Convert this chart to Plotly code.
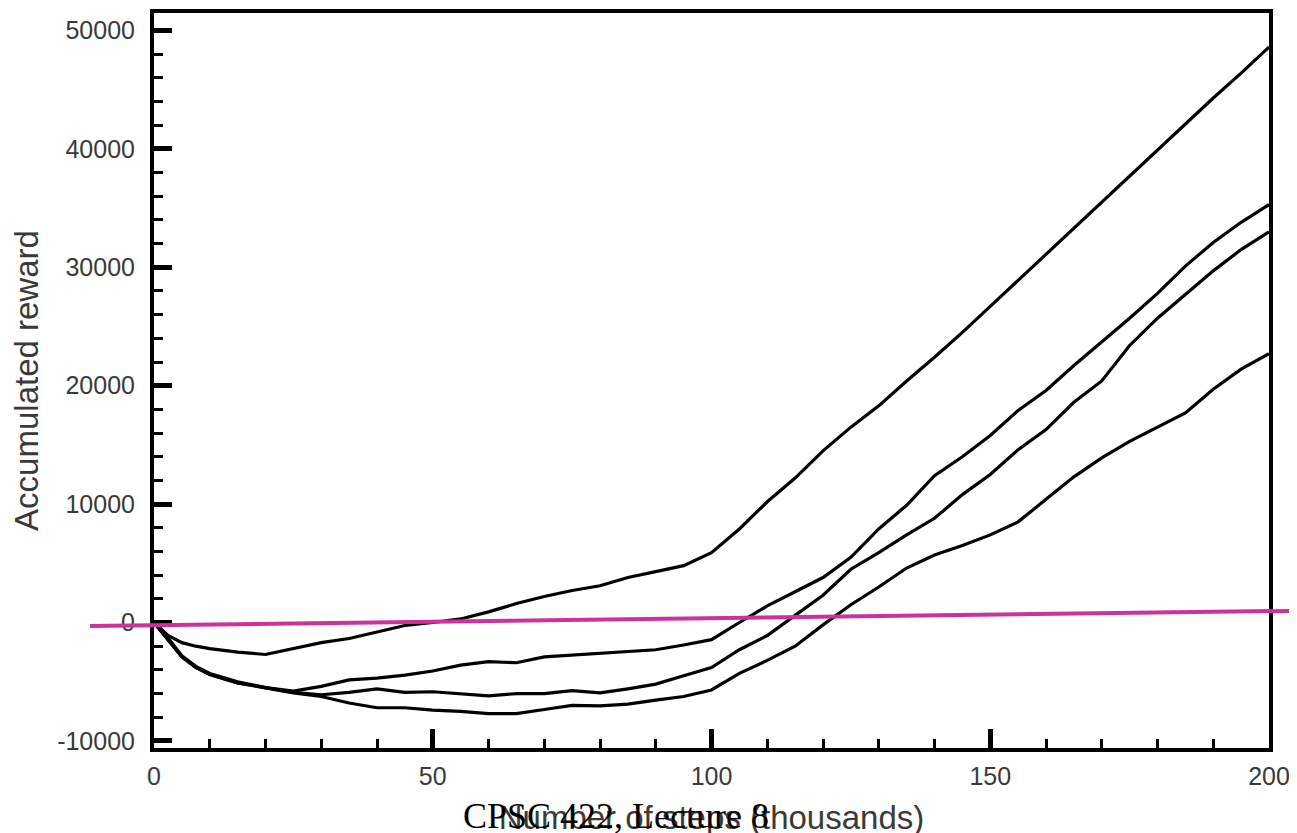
import plotly.graph_objects as go

# x positions (thousands of steps)
steps_k = [0, 2.5, 5, 7.5, 10, 15, 20, 25, 30, 35, 40, 45, 50, 55, 60, 65, 70, 75, 80, 85, 90, 95,
           100, 105, 110, 115, 120, 125, 130, 135, 140, 145, 150, 155, 160, 165, 170, 175, 180,
           185, 190, 195, 200]

run_a = [0, -1100, -1700, -2000, -2200, -2500, -2700, -2200, -1700, -1350, -800, -250, 0, 300, 900,
         1600, 2200, 2700, 3100, 3800, 4300, 4800,
         5900, 7900, 10200, 12200, 14500, 16500, 18300, 20400, 22400, 24500, 26700, 28900, 31100,
         33300, 35500, 37700, 39900, 42100, 44300, 46400, 48600]

run_b = [0, -1300, -2800, -3700, -4300, -5000, -5500, -5800, -5400, -4850, -4700, -4450, -4100, -3600,
         -3300, -3400, -2900, -2750, -2600, -2500, -2300, -1900,
         -1450, 0, 1400, 2600, 3800, 5500, 7900, 9900, 12400, 14000, 15800, 17900, 19600,
         21700, 23700, 25700, 27800, 30100, 32100, 33800, 35300]

run_c = [0, -1400, -2900, -3800, -4400, -5100, -5500, -5900, -6100, -5900, -5600, -5900, -5850, -6000,
         -6200, -6000, -6000, -5750, -5950, -5600, -5200, -4500,
         -3800, -2300, -1100, 600, 2300, 4500, 5900, 7400, 8800, 10800, 12500, 14600, 16300,
         18600, 20400, 23400, 25700, 27700, 29700, 31500, 33000]

run_d = [0, -1400, -2900, -3800, -4400, -5100, -5550, -5950, -6250, -6800, -7200, -7200, -7400, -7500,
         -7700, -7700, -7350, -7000, -7050, -6900, -6550, -6250,
         -5700, -4300, -3200, -2000, -200, 1500, 3000, 4600, 5700, 6500, 7400, 8500, 10400,
         12300, 13900, 15300, 16500, 17700, 19700, 21400, 22700]

x_ticks = [0, 50, 100, 150, 200]
x_tick_text = ["0", "50", "100", "150", "200"]
y_ticks = [-10000, 0, 10000, 20000, 30000, 40000, 50000]
y_tick_text = ["-10000", "0", "10000", "20000", "30000", "40000", "50000"]

W, H = 1297, 833
OFF = 8  # default page margin of the html body
ML, MR, MT, MB = 146, 36, 5, 93
PW, PH = W - ML - MR, H - MT - MB

def px_to_paper_x(px):
    return (px - OFF - ML) / PW

def px_to_paper_y(py):
    return (H - MB - (py - OFF)) / PH

fig = go.Figure()
for ys in (run_a, run_b, run_c, run_d):
    fig.add_trace(go.Scatter(x=steps_k, y=ys, mode="lines",
                             line=dict(color="black", width=3.2), showlegend=False))

tick_font = dict(family="Liberation Sans, Arial, sans-serif", size=25, color="#3a3a3a")

fig.update_xaxes(
    range=[0, 200], tickvals=x_ticks, ticktext=x_tick_text,
    ticks="inside", ticklen=19, tickwidth=5, tickcolor="black",
    minor=dict(dtick=10, ticks="inside", ticklen=9, tickwidth=3, tickcolor="black"),
    showline=True, linecolor="black", linewidth=4, mirror=True, showgrid=False, zeroline=False,
    tickfont=tick_font, ticklabelstandoff=3,
    title=dict(text="Number of steps (thousands)",
               font=dict(family="Liberation Sans, Arial, sans-serif", size=33, color="#3a3a3a"),
               standoff=18),
)
fig.update_yaxes(
    range=[-10600, 51480], tickvals=y_ticks, ticktext=y_tick_text,
    ticks="inside", ticklen=18, tickwidth=5, tickcolor="black",
    minor=dict(dtick=2000, ticks="inside", ticklen=9, tickwidth=3, tickcolor="black"),
    showline=True, linecolor="black", linewidth=4, mirror=True, showgrid=False, zeroline=False,
    tickfont=tick_font, ticklabelstandoff=10,
    title=dict(text="Accumulated reward",
               font=dict(family="Liberation Sans, Arial, sans-serif", size=33, color="#3a3a3a"),
               standoff=10),
)

# magenta overlay line (drawn over the chart, extends past the frame)
fig.add_shape(type="line", xref="paper", yref="paper",
              x0=px_to_paper_x(90), y0=px_to_paper_y(626),
              x1=px_to_paper_x(1305), y1=px_to_paper_y(610.7),
              line=dict(color="rgb(204,51,153)", width=4), layer="above")

fig.add_annotation(text="CPSC 422, Lecture 8", xref="paper", yref="paper",
                   x=px_to_paper_x(616), y=px_to_paper_y(816), xanchor="center", yanchor="middle",
                   showarrow=False,
                   font=dict(family="Liberation Serif, Times New Roman, serif", size=36, color="black"))

fig.update_layout(
    width=W, height=H, margin=dict(l=ML, r=MR, t=MT, b=MB, autoexpand=False),
    plot_bgcolor="white", paper_bgcolor="white",
)

fig.write_html("out.html")
